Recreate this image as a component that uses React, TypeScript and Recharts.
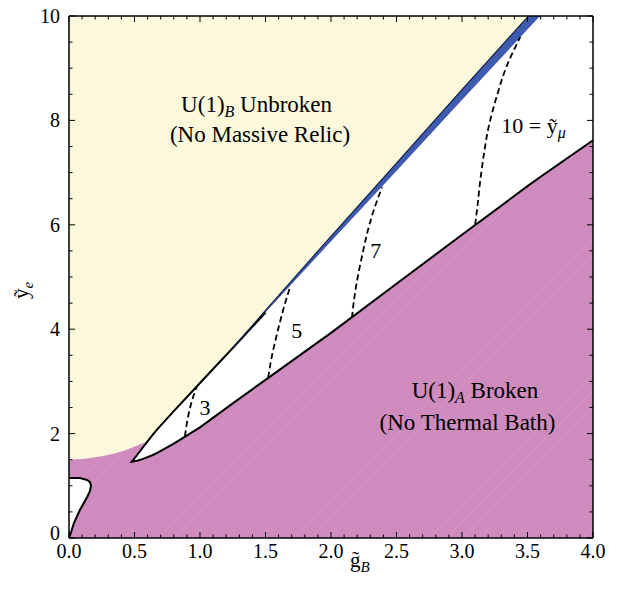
import React from 'react';
import { ComposedChart, Area, Line, XAxis, YAxis, ReferenceDot } from 'recharts';

const FONT = 'Liberation Serif';
const YELLOW = '#FBF8DB';
const MAGENTA = '#CF8ABE';
const BLUE = '#3D5BAF';
const WHITE = '#FFFFFF';

// ---- axes ----
const X_MIN = 0;
const X_MAX = 4;
const Y_MIN = 0;
const Y_MAX = 10;
const xMajorTicks = [0, 0.5, 1, 1.5, 2, 2.5, 3, 3.5, 4];
const xTickLabels = ['0.0', '0.5', '1.0', '1.5', '2.0', '2.5', '3.0', '3.5', '4.0'];
const yMajorTicks = [0, 2, 4, 6, 8, 10];
const yTickLabels = ['0', '2', '4', '6', '8', '10'];
const xMinorTicks = [0, 0.1, 0.2, 0.3, 0.4, 0.5, 0.6, 0.7, 0.8, 0.9, 1, 1.1, 1.2, 1.3, 1.4, 1.5, 1.6, 1.7, 1.8, 1.9, 2, 2.1, 2.2, 2.3, 2.4, 2.5, 2.6, 2.7, 2.8, 2.9, 3, 3.1, 3.2, 3.3, 3.4, 3.5, 3.6, 3.7, 3.8, 3.9, 4];
const yMinorTicks = [0, 0.5, 1, 1.5, 2, 2.5, 3, 3.5, 4, 4.5, 5, 5.5, 6, 6.5, 7, 7.5, 8, 8.5, 9, 9.5, 10];

// ---- regions ----
// yellow (U(1)_B unbroken) lower boundary at small g
const yellowCurveX = [0, 0.12, 0.24, 0.35, 0.44, 0.52];
const yellowCurveY = [1.5, 1.52, 1.56, 1.62, 1.69, 1.77];

// white wedge between lower and upper boundaries
const wedgeX = [0.479, 0.52, 0.56, 0.6, 0.64, 0.68, 0.8, 1.0, 1.25, 1.5, 2.0, 2.5, 3.0, 3.5, 3.6, 4.0];
const wedgeLo = [1.46, 1.48, 1.51, 1.55, 1.59, 1.64, 1.81, 2.12, 2.58, 3.03, 3.93, 4.87, 5.81, 6.74, 6.92, 7.62];
const wedgeHi = [1.46, 1.59, 1.72, 1.85, 1.98, 2.1, 2.43, 2.97, 3.64, 4.32, 5.68, 7.03, 8.39, 9.74, 10.01, 11.1];
// thickness of the blue strip above the wedge
const blueBand = [0, 0, 0, 0, 0, 0, 0, 0, 0, 0.04, 0.1, 0.15, 0.2, 0.24, 0.24, 0.26];

// small white loop near the origin
const loopX = [0, 0.013, 0.038, 0.084, 0.14, 0.16, 0.168];
const loopLo = [0, 0.09, 0.29, 0.54, 0.79, 0.9, 1.0];
const loopHi = [1.15, 1.15, 1.15, 1.15, 1.11, 1.07, 1.0];

// dashed contours of y_mu
const contour3X = [0.885, 0.9, 0.92, 0.945, 0.975];
const contour3Y = [1.95, 2.2, 2.45, 2.68, 2.9];
const contour5X = [1.52, 1.55, 1.59, 1.635, 1.69];
const contour5Y = [3.07, 3.5, 3.93, 4.37, 4.83];
const contour7X = [2.16, 2.19, 2.247, 2.31, 2.39];
const contour7Y = [4.22, 4.8, 5.52, 6.15, 6.72];
const contour10X = [3.1, 3.12, 3.137, 3.17, 3.21, 3.27, 3.34, 3.445];
const contour10Y = [6.0, 6.4, 6.8, 7.4, 7.95, 8.5, 9.03, 9.6];

// contour labels
const contourLabelText = ['3', '5', '7'];
const contourLabelX = [1.038, 1.738, 2.342];
const contourLabelY = [2.36, 3.83, 5.36];
const muLabelPos = { x: 3.3, y: 7.75 };

// region labels
const regionLabelX = [1.432, 1.458, 3.099, 3.042];
const regionLabelY = [8.17, 7.59, 2.676, 2.069];

// ---- derived rows ----
const bgRows = [
  { x: X_MIN, r: [Y_MIN, Y_MAX] },
  { x: X_MAX, r: [Y_MIN, Y_MAX] },
];
const yellowRows = [
  ...yellowCurveX.map((x, i) => ({ x, r: [yellowCurveY[i], Y_MAX] })),
  ...wedgeX
    .map((x, i) => ({ x, r: [wedgeHi[i] + blueBand[i], Y_MAX] }))
    .filter((d) => d.x >= 0.6),
];
const blueRows = wedgeX
  .map((x, i) => ({ x, r: [wedgeHi[i], wedgeHi[i] + blueBand[i]] }))
  .filter((d) => d.x >= 1.25);
const wedgeRows = wedgeX.map((x, i) => ({ x, r: [wedgeLo[i], wedgeHi[i]] }));
const loopRows = loopX.map((x, i) => ({ x, r: [loopLo[i], loopHi[i]] }));

const wedgeOutline = [
  ...wedgeX.map((x, i) => ({ x, y: wedgeLo[i] })).reverse(),
  ...wedgeX.map((x, i) => ({ x, y: wedgeHi[i] })).filter((d) => d.x > wedgeX[0] && d.x <= 1.5),
];
const blueEdge = wedgeX
  .map((x, i) => ({ x, y: wedgeHi[i] + blueBand[i] }))
  .filter((d) => d.x >= 1.25);
const loopOutline = [
  ...loopX.map((x, i) => ({ x, y: loopLo[i] })),
  ...loopX.map((x, i) => ({ x, y: loopHi[i] })).reverse(),
];
const toRows = (xs: number[], ys: number[]) => xs.map((x, i) => ({ x, y: ys[i] }));
const contours = [
  toRows(contour3X, contour3Y),
  toRows(contour5X, contour5Y),
  toRows(contour7X, contour7Y),
  toRows(contour10X, contour10Y),
];

const isMajor = (v: number, majors: number[]) => majors.some((m) => Math.abs(m - v) < 1e-6);
const labelFor = (v: number, majors: number[], labels: string[]) => {
  const i = majors.findIndex((m) => Math.abs(m - v) < 1e-6);
  return i >= 0 ? labels[i] : '';
};

const MAJOR_LEN = 6;
const MINOR_LEN = 3.5;

const T = (props: any) => <text fontFamily={FONT} fill="#000" {...props} />;

const BottomTick = (p: any) => {
  const v = p.payload.value;
  const major = isMajor(v, xMajorTicks);
  return (
    <g>
      <line x1={p.x} x2={p.x} y1={p.y} y2={p.y - (major ? MAJOR_LEN : MINOR_LEN)} stroke="#000" strokeWidth={1} />
      {major && (
        <T x={p.x} y={p.y + 20} textAnchor="middle" fontSize={20}>
          {labelFor(v, xMajorTicks, xTickLabels)}
        </T>
      )}
    </g>
  );
};
const TopTick = (p: any) => {
  const major = isMajor(p.payload.value, xMajorTicks);
  return <line x1={p.x} x2={p.x} y1={p.y} y2={p.y + (major ? MAJOR_LEN : MINOR_LEN)} stroke="#000" strokeWidth={1} />;
};
const LeftTick = (p: any) => {
  const v = p.payload.value;
  const major = isMajor(v, yMajorTicks);
  return (
    <g>
      <line x1={p.x} x2={p.x + (major ? MAJOR_LEN : MINOR_LEN)} y1={p.y} y2={p.y} stroke="#000" strokeWidth={1} />
      {major && (
        <T x={p.x - 9} y={p.y + (v === Y_MIN ? 2 : 7)} textAnchor="end" fontSize={20}>
          {labelFor(v, yMajorTicks, yTickLabels)}
        </T>
      )}
    </g>
  );
};
const RightTick = (p: any) => {
  const major = isMajor(p.payload.value, yMajorTicks);
  return <line x1={p.x} x2={p.x - (major ? MAJOR_LEN : MINOR_LEN)} y1={p.y} y2={p.y} stroke="#000" strokeWidth={1} />;
};

const XTitle = (p: any) => {
  const vb = p.viewBox || { x: 61, y: 530, width: 524, height: 50 };
  return (
    <T x={vb.x + 281} y={vb.y + 29} textAnchor="start" fontSize={21}>
      {'g\u0303'}
      <tspan fontStyle="italic" fontSize={15} dy={5}>B</tspan>
    </T>
  );
};
const YTitle = (p: any) => {
  const vb = p.viewBox || { x: 0, y: 8, width: 61, height: 522 };
  const x = vb.x + 20;
  const y = vb.y + 283;
  return (
    <T x={x} y={y} transform={`rotate(-90 ${x} ${y})`} textAnchor="start" fontSize={21}>
      {'\u1EF9'}
      <tspan fontStyle="italic" fontSize={15} dy={5}>e</tspan>
    </T>
  );
};

const axisLine = { stroke: '#000', strokeWidth: 1.5 };

export default function App() {
  return (
    <div style={{ position: 'relative' }}>
      <svg width={0} height={0} style={{ position: 'absolute' }}>
        <defs>
          <pattern id="brokenHatch" width={12} height={12} patternUnits="userSpaceOnUse" patternTransform="rotate(45)">
            <rect width={12} height={12} fill={MAGENTA} />
            <line x1={0} y1={0} x2={0} y2={12} stroke="#ffffff" strokeOpacity={0.18} strokeWidth={1} />
          </pattern>
        </defs>
      </svg>
      <ComposedChart width={603} height={580} margin={{ top: 0, right: 0, bottom: 0, left: 0 }}>
        <Area data={bgRows} dataKey="r" type="linear" stroke="none" fill="url(#brokenHatch)" fillOpacity={1} isAnimationActive={false} dot={false} activeDot={false} />
        <Area data={yellowRows} dataKey="r" type="linear" stroke="none" fill={YELLOW} fillOpacity={1} isAnimationActive={false} dot={false} activeDot={false} />
        <Area data={blueRows} dataKey="r" type="linear" stroke="none" fill={BLUE} fillOpacity={1} isAnimationActive={false} dot={false} activeDot={false} />
        <Area data={wedgeRows} dataKey="r" type="linear" stroke="none" fill={WHITE} fillOpacity={1} isAnimationActive={false} dot={false} activeDot={false} />
        <Area data={loopRows} dataKey="r" type="linear" stroke="none" fill={WHITE} fillOpacity={1} isAnimationActive={false} dot={false} activeDot={false} />

        <Line data={wedgeOutline} dataKey="y" type="linear" stroke="#000" strokeWidth={2} dot={false} activeDot={false} isAnimationActive={false} />
        <Line data={blueEdge} dataKey="y" type="linear" stroke="#14204a" strokeWidth={1.2} dot={false} activeDot={false} isAnimationActive={false} />
        <Line data={loopOutline} dataKey="y" type="linear" stroke="#000" strokeWidth={2} dot={false} activeDot={false} isAnimationActive={false} />
        {contours.map((c, i) => (
          <Line key={`c${i}`} data={c} dataKey="y" type="natural" stroke="#000" strokeWidth={1.8} strokeDasharray="6 3.5" dot={false} activeDot={false} isAnimationActive={false} />
        ))}

        {contourLabelText.map((t, i) => (
          <ReferenceDot key={`cl${i}`} x={contourLabelX[i]} y={contourLabelY[i]} r={1} shape={(p: any) => (
            <T x={p.cx} y={p.cy} textAnchor="middle" fontSize={22}>{t}</T>
          )} />
        ))}
        <ReferenceDot x={muLabelPos.x} y={muLabelPos.y} r={1} shape={(p: any) => (
          <T x={p.cx} y={p.cy} textAnchor="start" fontSize={22}>
            {'10 = \u1EF9'}
            <tspan fontStyle="italic" fontSize={16} dy={5}>{'\u03BC'}</tspan>
          </T>
        )} />
        <ReferenceDot x={regionLabelX[0]} y={regionLabelY[0]} r={1} shape={(p: any) => (
          <T x={p.cx} y={p.cy} textAnchor="middle" fontSize={23}>
            U(1)<tspan fontStyle="italic" fontSize={16} dy={5}>B</tspan><tspan dy={-5}> Unbroken</tspan>
          </T>
        )} />
        <ReferenceDot x={regionLabelX[1]} y={regionLabelY[1]} r={1} shape={(p: any) => (
          <T x={p.cx} y={p.cy} textAnchor="middle" fontSize={23}>(No Massive Relic)</T>
        )} />
        <ReferenceDot x={regionLabelX[2]} y={regionLabelY[2]} r={1} shape={(p: any) => (
          <T x={p.cx} y={p.cy} textAnchor="middle" fontSize={23}>
            U(1)<tspan fontStyle="italic" fontSize={16} dy={5}>A</tspan><tspan dy={-5}> Broken</tspan>
          </T>
        )} />
        <ReferenceDot x={regionLabelX[3]} y={regionLabelY[3]} r={1} shape={(p: any) => (
          <T x={p.cx} y={p.cy} textAnchor="middle" fontSize={23}>(No Thermal Bath)</T>
        )} />

        <XAxis xAxisId={0} orientation="bottom" type="number" dataKey="x" domain={[X_MIN, X_MAX]} allowDataOverflow
          ticks={xMinorTicks} interval={0} tickSize={0} tickMargin={0} tickLine={false} tick={(p: any) => <BottomTick {...p} />}
          axisLine={axisLine} height={50} label={<XTitle />} />
        <XAxis xAxisId="top" orientation="top" type="number" dataKey="x" domain={[X_MIN, X_MAX]} allowDataOverflow
          ticks={xMinorTicks} interval={0} tickSize={0} tickMargin={0} tickLine={false} tick={(p: any) => <TopTick {...p} />}
          axisLine={axisLine} height={8} />
        <YAxis yAxisId={0} orientation="left" type="number" dataKey="y" domain={[Y_MIN, Y_MAX]} allowDataOverflow
          ticks={yMinorTicks} interval={0} tickSize={0} tickMargin={0} tickLine={false} tick={(p: any) => <LeftTick {...p} />}
          axisLine={axisLine} width={61} label={<YTitle />} />
        <YAxis yAxisId="right" orientation="right" type="number" dataKey="y" domain={[Y_MIN, Y_MAX]} allowDataOverflow
          ticks={yMinorTicks} interval={0} tickSize={0} tickMargin={0} tickLine={false} tick={(p: any) => <RightTick {...p} />}
          axisLine={axisLine} width={18} />
      </ComposedChart>
    </div>
  );
}
